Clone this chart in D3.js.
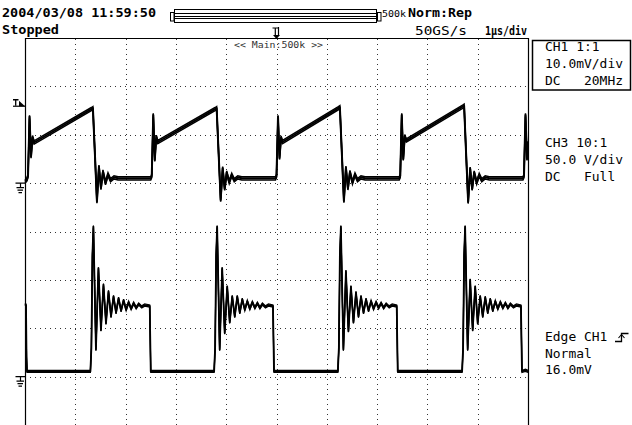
<!DOCTYPE html>
<html><head><meta charset="utf-8">
<script src="https://cdn.jsdelivr.net/npm/d3@7/dist/d3.min.js"></script>
<style>
html,body{margin:0;padding:0;background:#fff;}
svg{display:block;}
text{font-family:"DejaVu Sans Mono",monospace;fill:#000;white-space:pre;}
</style></head><body>
<svg id="c" width="632" height="425"></svg>
<script>
// ---- header / panel texts ----
const dateText = "2004/03/08 11:59:50";
const statusText = "Stopped";
const modeText = "Norm:Rep";
const recLenText = "500k";
const sampleRateText = "50GS/s";
const timeDivText = "1μs/div";
const zoomLabel = "<< Main:500k >>";
const ch1Info = ["CH1 1:1", "10.0mV/div", "DC   20MHz"];
const ch3Info = ["CH3 10:1", "50.0 V/div", "DC   Full"];
const trigInfo = ["Edge CH1", "Normal", "16.0mV"];

// ---- axes: 10 horizontal divisions (1 µs/div), 8 vertical divisions ----
const timeDomain = [-5, 5];          // µs, trigger at 0
const divDomain = [-4, 4];           // divisions
const ch1Ground = 1;                 // division of CH1 ground marker
const ch1PerDiv = 10;                // mV/div
const ch3Ground = -3;                // division of CH3 ground marker
const ch3PerDiv = 50;                // V/div
const trigLevel = 16.0;              // mV

// ---- CH1 trace: [time µs, mV] ----
const ch1T = [-5.00,-4.96,-4.94,-4.91,-4.88,-4.85,-4.82,-3.68,-3.65,-3.61,-3.57,-3.53,-3.49,-3.45,-3.40,-3.35,-3.30,-3.23,-3.15,
  -2.50,-2.48,-2.45,-2.42,-2.39,-2.36,-1.22,-1.19,-1.15,-1.11,-1.07,-1.03,-0.99,-0.94,-0.89,-0.84,-0.77,-0.69,
  -0.02,0.00,0.03,0.06,0.09,0.12,1.23,1.26,1.30,1.34,1.38,1.42,1.46,1.51,1.56,1.61,1.68,1.76,
  2.44,2.46,2.49,2.52,2.55,2.58,3.70,3.73,3.77,3.81,3.85,3.89,3.93,3.98,4.03,4.08,4.15,4.23,
  4.90,4.92,4.95,4.98,5.00];
const ch1V = [0.3,0.8,1.5,13.7,5.5,9.5,8.4,15.3,15.5,6.0,-3.8,3.4,-1.0,2.4,0.0,1.8,0.6,1.2,1.0,
  1.0,1.5,14.1,4.8,9.6,8.5,15.3,15.5,6.0,-3.5,3.1,-1.2,2.2,0.2,1.7,0.6,1.2,1.0,
  1.0,1.5,13.7,5.2,9.4,8.5,15.5,15.7,6.0,-3.7,3.2,-1.1,2.3,0.1,1.8,0.6,1.2,1.0,
  1.0,1.5,14.1,5.0,9.7,8.8,15.8,16.0,6.0,-3.9,3.0,-1.2,2.2,0.1,1.7,0.6,1.2,1.0,
  1.0,1.5,14.1,5.0,8.3];

// ---- CH3 trace: [time µs, V] ----
const ch3T = [-5.00,-4.98,-4.97,-4.96,
  -3.70,-3.68,-3.66,-3.64,-3.59,-3.54,-3.49,-3.44,-3.39,-3.34,-3.29,-3.24,-3.19,-3.14,-3.09,-3.04,-2.99,-2.94,-2.89,-2.84,-2.79,-2.74,-2.68,-2.62,-2.52,-2.50,
  -1.24,-1.22,-1.20,-1.18,-1.13,-1.08,-1.03,-0.98,-0.93,-0.88,-0.83,-0.78,-0.73,-0.68,-0.63,-0.58,-0.53,-0.48,-0.43,-0.38,-0.33,-0.28,-0.22,-0.16,-0.07,-0.05,
  1.22,1.24,1.26,1.28,1.33,1.38,1.43,1.48,1.53,1.58,1.63,1.68,1.73,1.78,1.83,1.88,1.93,1.98,2.03,2.08,2.13,2.18,2.24,2.30,2.39,2.41,
  3.69,3.71,3.73,3.75,3.80,3.85,3.90,3.95,4.00,4.05,4.10,4.15,4.20,4.25,4.30,4.35,4.40,4.45,4.50,4.55,4.60,4.65,4.71,4.77,4.86,4.88,
  4.95,5.00];
const ch3V = [75,74,20,5.4,
  5.4,30,125,155,28,112,48,95,55,88,62,83,66,81,68,79,69,77,70,76,71,75,72,74,73,5.4,
  5.4,30,125,155,28,112,45,93,56,83,62,83,66,80,69,78,70,77,71,76,71,75,72,74,73,5.4,
  5.4,30,125,155,28,109,47,93,56,87,62,83,66,80,68,78,70,77,71,76,71,75,72,74,73,5.4,
  5.4,30,125,155,28,100,48,93,55,83,62,82,66,80,68,78,70,77,71,76,71,75,72,74,73,5.4,
  6.5,5.4];

// ================= drawing =================
const svg = d3.select("#c");
const X0 = 25, X1 = 528, Y0 = 38, Y1 = 425;
const x = d3.scaleLinear().domain(timeDomain).range([X0, X1]);
const y = d3.scaleLinear().domain(divDomain).range([Y1, Y0]);
const y1 = d3.scaleLinear().domain([0, ch1PerDiv]).range([y(ch1Ground), y(ch1Ground + 1)]);
const y3 = d3.scaleLinear().domain([0, ch3PerDiv]).range([y(ch3Ground), y(ch3Ground + 1)]);

// grid (dotted) via axes
const gx = svg.append("g").attr("transform", `translate(0,${Y1})`)
  .call(d3.axisBottom(x).ticks(10).tickSize(-(Y1 - Y0)).tickFormat(""));
const gy = svg.append("g").attr("transform", `translate(${X0},0)`)
  .call(d3.axisLeft(y).ticks(8).tickSize(-(X1 - X0)).tickFormat(""));
[gx, gy].forEach(g => {
  g.select(".domain").remove();
  g.selectAll(".tick line").attr("stroke", "#333").attr("stroke-width", 1)
    .attr("stroke-dasharray", "1,4").attr("shape-rendering", "crispEdges");
});
gx.selectAll(".tick").filter(d => d === timeDomain[0] || d === timeDomain[1]).remove();
gy.selectAll(".tick").filter(d => d === divDomain[0] || d === divDomain[1]).remove();

// frame
svg.append("path").attr("d", `M${X0+0.5},${Y1+2}V${Y0+0.5}H${X1+0.5}V${Y1+2}`)
  .attr("fill", "none").attr("stroke", "#000").attr("stroke-width", 1.2);

// traces (main stroke plus two vertically offset strokes to show the noise band)
function drawTrace(T, V, ys, spread, mainW, sideW) {
  const pts = T.map((t, i) => [x(t), ys(V[i])]);
  const line = d3.line();
  const g = svg.append("g");
  [-spread, spread].forEach(off => {
    g.append("path").attr("d", line(pts)).attr("transform", `translate(0,${off})`)
      .attr("fill", "none").attr("stroke", "#000").attr("stroke-width", sideW);
  });
  g.append("path").attr("d", line(pts)).attr("fill", "none")
    .attr("stroke", "#000").attr("stroke-width", mainW).attr("stroke-linejoin", "round");
}
drawTrace(ch1T, ch1V, y1, 1.6, 2.0, 1.5);
drawTrace(ch3T, ch3V, y3, 1.1, 1.8, 1.2);

// ground markers
function ground(yl) {
  const p = `M15.5,${yl}H25 M20.5,${yl}V${yl+4.5} M16.5,${yl+4.5}H24 M17.5,${yl+7}H23 M18.5,${yl+9.5}H22`;
  svg.append("path").attr("d", p).attr("stroke", "#000").attr("stroke-width", 1.2).attr("fill", "none");
}
ground(y(ch1Ground));
ground(y(ch3Ground));

// trigger level marker on left
const ty = y1(trigLevel);
svg.append("path").attr("d", `M13,${ty+0.5}H25`).attr("stroke", "#000").attr("stroke-width", 1.2);
svg.append("path").attr("d", `M19,${ty-5}L25,${ty+0.5}L19,${ty+0.5}Z`).attr("fill", "#000");
svg.append("path").attr("d", `M13,${ty-6}H18.5 M15.7,${ty-6}V${ty}`).attr("stroke", "#000").attr("stroke-width", 1.3);

// trigger position marker at top
const tx = x(0);
svg.append("path").attr("d", `M${tx-4},${Y0-10}H${tx+1.5} M${tx-1.2},${Y0-10}V${Y0-3} M${tx+2},${Y0-11}V${Y0-2}`)
  .attr("stroke", "#000").attr("stroke-width", 1.2).attr("fill", "none");
svg.append("path").attr("d", `M${tx-3.5},${Y0-3}L${tx+3.5},${Y0-3}L${tx},${Y0+1}Z`).attr("fill", "#000");

// record length bar
const bar = svg.append("g").attr("stroke", "#000").attr("stroke-width", 1).attr("fill", "none");
bar.append("rect").attr("x", 170.5).attr("y", 12.5).attr("width", 3.5).attr("height", 8.5);
bar.append("rect").attr("x", 174.5).attr("y", 9.5).attr("width", 202).attr("height", 13);
[13.5, 16.5, 18.5].forEach(v => bar.append("path").attr("d", `M174.5,${v}H376.5`));
bar.append("rect").attr("x", 377.5).attr("y", 12.5).attr("width", 3.5).attr("height", 8.5);

// texts
function txt(s, xp, yp, size, opts = {}) {
  const t = svg.append("text").attr("x", xp).attr("y", yp).attr("xml:space", "preserve")
    .style("font-size", size + "px").text(s);
  if (opts.bold) t.style("font-weight", "bold");
  if (opts.anchor) t.attr("text-anchor", opts.anchor);
  if (opts.fill) t.style("fill", opts.fill);
  if (opts.len) t.attr("textLength", opts.len).attr("lengthAdjust", "spacingAndGlyphs");
  return t;
}
txt(dateText, 2, 16.5, 13, {bold: true, len: 154});
txt(statusText, 2, 34, 13, {bold: true, len: 57});
txt(recLenText, 382, 17, 8.5, {len: 24});
txt(modeText, 408, 17, 13, {bold: true, len: 64});
txt(sampleRateText, 415, 35, 13, {len: 52});
txt(timeDivText, 485, 35, 12, {bold: true, len: 42});
txt(zoomLabel, x(0) + 2, 48, 9, {anchor: "middle", fill: "#333", len: 89});

svg.append("rect").attr("x", 532.5).attr("y", 40.5).attr("width", 98).attr("height", 49.5)
  .attr("fill", "none").attr("stroke", "#000").attr("stroke-width", 1.5);
ch1Info.forEach((s, i) => txt(s, 545, 51 + i * 16.8, 13, {len: s.length * 7.8}));
ch3Info.forEach((s, i) => txt(s, 545, 147 + i * 16.8, 13, {len: s.length * 7.8}));
trigInfo.forEach((s, i) => txt(s, 545, 341 + i * 16.5, 13, {len: s.length * 7.8}));
// rising-edge symbol
svg.append("path").attr("d", "M615,341.5H621.5V333.5H628.5").attr("fill", "none").attr("stroke", "#000").attr("stroke-width", 1.3);
svg.append("path").attr("d", "M618.5,338L621.5,334.5L624.5,338").attr("fill", "none").attr("stroke", "#000").attr("stroke-width", 1.1);
</script>
</body></html>
